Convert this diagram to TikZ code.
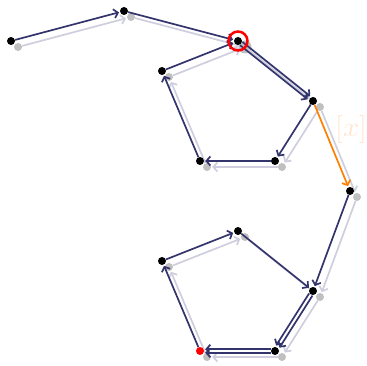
\documentclass[tikz,border=0pt]{standalone}
\usepackage{amsmath,amssymb}
\usepackage{tikz}
\usetikzlibrary{arrows.meta,calc}
\usepackage{xcolor}

\definecolor{walk}{RGB}{52,52,108}
\definecolor{ghost}{RGB}{206,206,222}
\definecolor{ghostdot}{RGB}{192,192,192}
\definecolor{jump}{RGB}{255,128,0}
\definecolor{jumplab}{RGB}{255,230,208}

\tikzset{
  vtx/.style={circle, fill=black, inner sep=0pt, minimum size=8pt},
  ghostvtx/.style={circle, fill=ghostdot, inner sep=0pt, minimum size=8pt},
  stepline/.style={draw=walk, line width=1.7pt, ->, shorten >=1pt},
  ghostline/.style={draw=ghost, line width=1.7pt, ->, shorten >=1pt}
}

\begin{document}
\begin{tikzpicture}[x=1pt, y=-1pt, >={Straight Barb[length=4pt,width=9pt]}]
  \useasboundingbox (0,0) rectangle (367,366);
  % shadow of the previous walk
  \foreach \n/\x/\y in {1/11/41, 2/124/11, 3/238/41, 4/162/71, 5/313/101, 6/200/161, 7/275/161,
                        8/350/191, 9/238/231, 10/162/261, 11/313/291, 12/200/351, 13/275/351}
    \node[ghostvtx] (s\n) at (\x+7,\y+6) {};
  \fill[ghostdot] (s3) circle (6.5pt);
  \foreach \a/\b in {1/2, 2/3, 4/3, 3/5, 5/7, 7/6, 6/4, 5/8, 8/11, 9/11, 10/9, 12/10, 11/13, 13/12}
    \draw[ghostline] (s\a) -- (s\b);

  % current walk
  \foreach \n/\x/\y in {1/11/41, 2/124/11, 3/238/41, 4/162/71, 5/313/101, 6/200/161, 7/275/161,
                        8/350/191, 9/238/231, 10/162/261, 11/313/291, 13/275/351}
    \node[vtx] (v\n) at (\x,\y) {};
  \node[vtx, fill=red] (v12) at (200,351) {};
  \foreach \a/\b in {1/2, 2/3, 4/3, 5/7, 7/6, 6/4, 8/11, 9/11, 10/9, 12/10}
    \draw[stepline] (v\a) -- (v\b);
  % edges walked twice
  \draw[stepline, transform canvas={xshift=1.25pt, yshift=1.56pt}] (v3) -- (v5);
  \draw[stepline, transform canvas={xshift=-1.25pt, yshift=-1.56pt}] (v3) -- (v5);
  \draw[stepline, transform canvas={xshift=1.69pt, yshift=-1.07pt}] (v11) -- (v13);
  \draw[stepline, transform canvas={xshift=-1.69pt, yshift=1.07pt}] (v11) -- (v13);
  \draw[stepline, transform canvas={yshift=1.8pt}] (v13) -- (v12);
  \draw[stepline, transform canvas={yshift=-1.8pt}] (v13) -- (v12);

  % jump
  \draw[stepline, draw=jump] (v5) -- (v8);
  \node[text=jumplab, inner sep=0pt] (lab) at (351,130) {\scalebox{2.8}{$[x]$}};

  \draw[red, line width=2.5pt] (v3) circle (9.5pt);
\end{tikzpicture}
\end{document}
